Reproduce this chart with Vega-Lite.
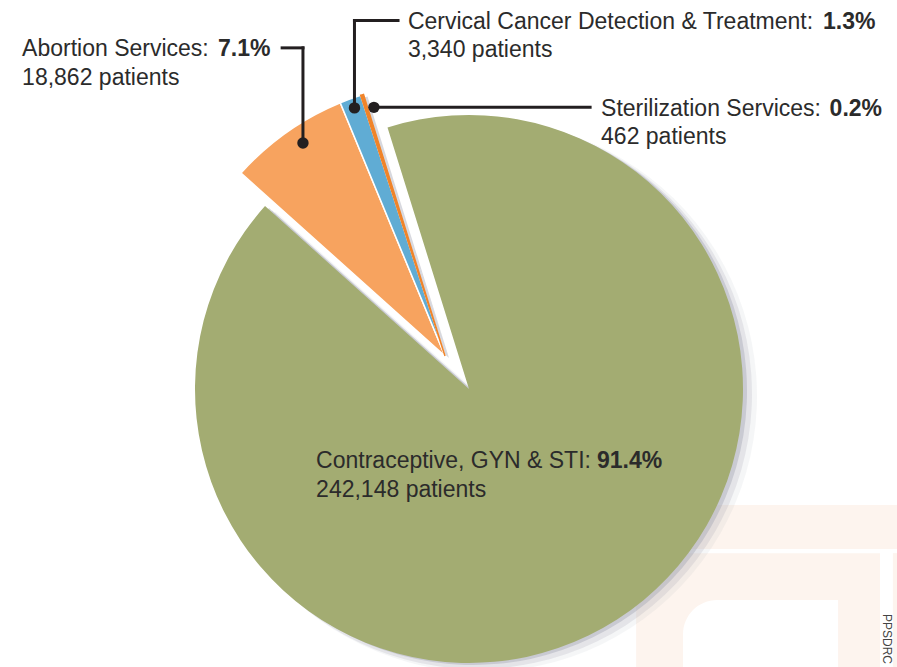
{
  "$schema": "https://vega.github.io/schema/vega-lite/v6.json",
  "width": 548,
  "height": 548,
  "autosize": {"type": "none"},
  "padding": {"left": 195, "top": 115, "right": 154, "bottom": 4},
  "background": "white",
  "config": {
    "view": {"stroke": null},
    "text": {"font": "Liberation Sans", "fontSize": 23, "color": "#2b2b2b"}
  },
  "data": {
    "values": [
      {"service": "Contraceptive, GYN & STI", "patients": 242148, "pct": "91.4%"},
      {"service": "Abortion Services", "patients": 18862, "pct": "7.1%"},
      {"service": "Cervical Cancer Detection & Treatment", "patients": 3340, "pct": "1.3%"},
      {"service": "Sterilization Services", "patients": 462, "pct": "0.2%"}
    ]
  },
  "transform": [
    {"stack": "patients", "groupby": [], "sort": [{"field": "patients", "order": "descending"}], "as": ["p0", "p1"]},
    {"calculate": "datum.service + ':\\n' + format(datum.patients, ',') + ' patients'", "as": "label"}
  ],
  "layer": [
    {
      "data": {"values": [{}]},
      "layer": [
        {
          "mark": {"type": "rect", "color": "#fdf4ee"},
          "encoding": {
            "x": {"datum": 62.4, "type": "quantitative", "scale": {"domain": [-100, 100], "nice": false, "zero": false}, "axis": null},
            "x2": {"datum": 157},
            "y": {"datum": -42.3, "type": "quantitative", "scale": {"domain": [-100, 100], "nice": false, "zero": false}, "axis": null},
            "y2": {"datum": -58.4}
          }
        },
        {
          "mark": {"type": "rect", "color": "#fdf4ee", "cornerRadiusTopLeft": 45},
          "encoding": {
            "x": {"datum": 61.0, "type": "quantitative", "scale": {"domain": [-100, 100], "nice": false, "zero": false}, "axis": null},
            "x2": {"datum": 150.0},
            "y": {"datum": -59.9, "type": "quantitative", "scale": {"domain": [-100, 100], "nice": false, "zero": false}, "axis": null},
            "y2": {"datum": -102}
          }
        },
        {
          "mark": {"type": "rect", "color": "#fdf4ee"},
          "encoding": {
            "x": {"datum": 154.7, "type": "quantitative", "scale": {"domain": [-100, 100], "nice": false, "zero": false}, "axis": null},
            "x2": {"datum": 157},
            "y": {"datum": -59.9, "type": "quantitative", "scale": {"domain": [-100, 100], "nice": false, "zero": false}, "axis": null},
            "y2": {"datum": -102}
          }
        },
        {
          "mark": {"type": "rect", "color": "#ffffff", "cornerRadiusTopLeft": 35},
          "encoding": {
            "x": {"datum": 78.1, "type": "quantitative", "scale": {"domain": [-100, 100], "nice": false, "zero": false}, "axis": null},
            "x2": {"datum": 134.7},
            "y": {"datum": -77.0, "type": "quantitative", "scale": {"domain": [-100, 100], "nice": false, "zero": false}, "axis": null},
            "y2": {"datum": -102}
          }
        },
        {
          "mark": {"type": "text", "angle": 90, "align": "left", "baseline": "middle", "fontSize": 12, "color": "#444444"},
          "encoding": {
            "x": {"datum": 152.7, "type": "quantitative", "scale": {"domain": [-100, 100], "nice": false, "zero": false}, "axis": null},
            "y": {"datum": -82.1, "type": "quantitative", "scale": {"domain": [-100, 100], "nice": false, "zero": false}, "axis": null},
            "text": {"value": "PPSDRC"}
          }
        }
      ]
    },
    {
      "transform": [{"filter": "datum.patients > 100000"}],
      "layer": [
        {
          "mark": {"type": "arc", "color": "#9fa2b1", "opacity": 0.1, "outerRadius": 276, "xOffset": 12, "yOffset": 7},
          "encoding": {
            "theta": {"field": "p0", "type": "quantitative", "scale": {"domain": [0, 264812], "range": [-0.302, 5.9812]}},
            "theta2": {"field": "p1"}
          }
        },
        {
          "mark": {"type": "arc", "color": "#9fa2b1", "opacity": 0.2, "outerRadius": 275, "xOffset": 8, "yOffset": 5},
          "encoding": {
            "theta": {"field": "p0", "type": "quantitative", "scale": {"domain": [0, 264812], "range": [-0.302, 5.9812]}},
            "theta2": {"field": "p1"}
          }
        },
        {
          "mark": {"type": "arc", "color": "#9fa2b1", "opacity": 0.4, "outerRadius": 274, "xOffset": 4, "yOffset": 2},
          "encoding": {
            "theta": {"field": "p0", "type": "quantitative", "scale": {"domain": [0, 264812], "range": [-0.302, 5.9812]}},
            "theta2": {"field": "p1"}
          }
        },
        {
          "mark": {"type": "arc", "color": "#a3ac72"},
          "encoding": {
            "theta": {"field": "p0", "type": "quantitative", "scale": {"domain": [0, 264812], "range": [-0.302, 5.9812]}},
            "theta2": {"field": "p1"}
          }
        }
      ]
    },
    {
      "transform": [{"filter": "datum.patients < 100000"}],
      "mark": {"type": "arc", "color": "#a6a9b6", "opacity": 0.45, "xOffset": -20, "yOffset": -31},
      "encoding": {
        "theta": {"field": "p0", "type": "quantitative", "scale": {"domain": [0, 264812], "range": [-0.302, 5.9812]}},
        "theta2": {"field": "p1"}
      }
    },
    {
      "transform": [{"filter": "datum.patients < 100000"}],
      "mark": {"type": "arc", "xOffset": -24, "yOffset": -33, "strokeWidth": 1.5},
      "encoding": {
        "theta": {"field": "p0", "type": "quantitative", "scale": {"domain": [0, 264812], "range": [-0.302, 5.9812]}},
        "theta2": {"field": "p1"},
        "stroke": {
          "field": "service",
          "type": "nominal",
          "scale": {
            "domain": ["Abortion Services", "Cervical Cancer Detection & Treatment", "Sterilization Services"],
            "range": ["#ffffff", "#ffffff", "#f0842a"]
          },
          "legend": null
        },
        "fill": {
          "field": "service",
          "type": "nominal",
          "scale": {
            "domain": ["Contraceptive, GYN & STI", "Abortion Services", "Cervical Cancer Detection & Treatment", "Sterilization Services"],
            "range": ["#a3ac72", "#f7a35f", "#60acd4", "#f0842a"]
          },
          "legend": null
        }
      }
    },
    {
      "data": {"values": [{}]},
      "layer": [
        {
          "mark": {"type": "rule", "color": "#231f20", "strokeWidth": 3, "strokeCap": "square"},
          "encoding": {
            "x": {"datum": -68.2, "type": "quantitative", "scale": {"domain": [-100, 100], "nice": false, "zero": false}, "axis": null},
            "x2": {"datum": -60.6},
            "y": {"datum": 124.5, "type": "quantitative", "scale": {"domain": [-100, 100], "nice": false, "zero": false}, "axis": null}
          }
        },
        {
          "mark": {"type": "rule", "color": "#231f20", "strokeWidth": 3, "strokeCap": "square"},
          "encoding": {
            "x": {"datum": -60.6, "type": "quantitative", "scale": {"domain": [-100, 100], "nice": false, "zero": false}, "axis": null},
            "y": {"datum": 124.5, "type": "quantitative", "scale": {"domain": [-100, 100], "nice": false, "zero": false}, "axis": null},
            "y2": {"datum": 89.8}
          }
        },
        {
          "mark": {"type": "rule", "color": "#231f20", "strokeWidth": 3, "strokeCap": "square"},
          "encoding": {
            "x": {"datum": -41.8, "type": "quantitative", "scale": {"domain": [-100, 100], "nice": false, "zero": false}, "axis": null},
            "x2": {"datum": -25.9},
            "y": {"datum": 134.5, "type": "quantitative", "scale": {"domain": [-100, 100], "nice": false, "zero": false}, "axis": null}
          }
        },
        {
          "mark": {"type": "rule", "color": "#231f20", "strokeWidth": 3, "strokeCap": "square"},
          "encoding": {
            "x": {"datum": -41.8, "type": "quantitative", "scale": {"domain": [-100, 100], "nice": false, "zero": false}, "axis": null},
            "y": {"datum": 134.5, "type": "quantitative", "scale": {"domain": [-100, 100], "nice": false, "zero": false}, "axis": null},
            "y2": {"datum": 102.6}
          }
        },
        {
          "mark": {"type": "rule", "color": "#231f20", "strokeWidth": 3, "strokeCap": "square"},
          "encoding": {
            "x": {"datum": -34.7, "type": "quantitative", "scale": {"domain": [-100, 100], "nice": false, "zero": false}, "axis": null},
            "x2": {"datum": 44.2},
            "y": {"datum": 102.8, "type": "quantitative", "scale": {"domain": [-100, 100], "nice": false, "zero": false}, "axis": null}
          }
        },
        {
          "mark": {"type": "point", "filled": true, "opacity": 1, "size": 130, "color": "#231f20"},
          "encoding": {
            "x": {"datum": -60.6, "type": "quantitative", "scale": {"domain": [-100, 100], "nice": false, "zero": false}, "axis": null},
            "y": {"datum": 89.8, "type": "quantitative", "scale": {"domain": [-100, 100], "nice": false, "zero": false}, "axis": null}
          }
        },
        {
          "mark": {"type": "point", "filled": true, "opacity": 1, "size": 130, "color": "#231f20"},
          "encoding": {
            "x": {"datum": -41.8, "type": "quantitative", "scale": {"domain": [-100, 100], "nice": false, "zero": false}, "axis": null},
            "y": {"datum": 102.6, "type": "quantitative", "scale": {"domain": [-100, 100], "nice": false, "zero": false}, "axis": null}
          }
        },
        {
          "mark": {"type": "point", "filled": true, "opacity": 1, "size": 130, "color": "#231f20"},
          "encoding": {
            "x": {"datum": -34.7, "type": "quantitative", "scale": {"domain": [-100, 100], "nice": false, "zero": false}, "axis": null},
            "y": {"datum": 102.8, "type": "quantitative", "scale": {"domain": [-100, 100], "nice": false, "zero": false}, "axis": null}
          }
        }
      ]
    },
    {
      "transform": [{"filter": "datum.service === 'Abortion Services'"}],
      "layer": [
        {
          "mark": {"type": "text", "align": "left", "baseline": "alphabetic", "lineBreak": "\n", "lineHeight": 28.5},
          "encoding": {
            "x": {"datum": -163.1, "type": "quantitative", "scale": {"domain": [-100, 100], "nice": false, "zero": false}, "axis": null},
            "y": {"datum": 121.4, "type": "quantitative", "scale": {"domain": [-100, 100], "nice": false, "zero": false}, "axis": null},
            "text": {"field": "label"}
          }
        },
        {
          "mark": {"type": "text", "align": "left", "baseline": "alphabetic", "fontWeight": "bold"},
          "encoding": {
            "x": {"datum": -91.6, "type": "quantitative", "scale": {"domain": [-100, 100], "nice": false, "zero": false}, "axis": null},
            "y": {"datum": 121.4, "type": "quantitative", "scale": {"domain": [-100, 100], "nice": false, "zero": false}, "axis": null},
            "text": {"field": "pct"}
          }
        }
      ]
    },
    {
      "transform": [{"filter": "datum.service === 'Cervical Cancer Detection & Treatment'"}],
      "layer": [
        {
          "mark": {"type": "text", "align": "left", "baseline": "alphabetic", "lineBreak": "\n", "lineHeight": 28.5},
          "encoding": {
            "x": {"datum": -22.3, "type": "quantitative", "scale": {"domain": [-100, 100], "nice": false, "zero": false}, "axis": null},
            "y": {"datum": 131.4, "type": "quantitative", "scale": {"domain": [-100, 100], "nice": false, "zero": false}, "axis": null},
            "text": {"field": "label"}
          }
        },
        {
          "mark": {"type": "text", "align": "left", "baseline": "alphabetic", "fontWeight": "bold"},
          "encoding": {
            "x": {"datum": 129.2, "type": "quantitative", "scale": {"domain": [-100, 100], "nice": false, "zero": false}, "axis": null},
            "y": {"datum": 131.4, "type": "quantitative", "scale": {"domain": [-100, 100], "nice": false, "zero": false}, "axis": null},
            "text": {"field": "pct"}
          }
        }
      ]
    },
    {
      "transform": [{"filter": "datum.service === 'Sterilization Services'"}],
      "layer": [
        {
          "mark": {"type": "text", "align": "left", "baseline": "alphabetic", "lineBreak": "\n", "lineHeight": 28.5},
          "encoding": {
            "x": {"datum": 48.2, "type": "quantitative", "scale": {"domain": [-100, 100], "nice": false, "zero": false}, "axis": null},
            "y": {"datum": 99.8, "type": "quantitative", "scale": {"domain": [-100, 100], "nice": false, "zero": false}, "axis": null},
            "text": {"field": "label"}
          }
        },
        {
          "mark": {"type": "text", "align": "left", "baseline": "alphabetic", "fontWeight": "bold"},
          "encoding": {
            "x": {"datum": 131.6, "type": "quantitative", "scale": {"domain": [-100, 100], "nice": false, "zero": false}, "axis": null},
            "y": {"datum": 99.8, "type": "quantitative", "scale": {"domain": [-100, 100], "nice": false, "zero": false}, "axis": null},
            "text": {"field": "pct"}
          }
        }
      ]
    },
    {
      "transform": [{"filter": "datum.service === 'Contraceptive, GYN & STI'"}],
      "layer": [
        {
          "mark": {"type": "text", "align": "left", "baseline": "alphabetic", "lineBreak": "\n", "lineHeight": 28.5},
          "encoding": {
            "x": {"datum": -55.8, "type": "quantitative", "scale": {"domain": [-100, 100], "nice": false, "zero": false}, "axis": null},
            "y": {"datum": -29.0, "type": "quantitative", "scale": {"domain": [-100, 100], "nice": false, "zero": false}, "axis": null},
            "text": {"field": "label"}
          }
        },
        {
          "mark": {"type": "text", "align": "left", "baseline": "alphabetic", "fontWeight": "bold"},
          "encoding": {
            "x": {"datum": 46.7, "type": "quantitative", "scale": {"domain": [-100, 100], "nice": false, "zero": false}, "axis": null},
            "y": {"datum": -29.0, "type": "quantitative", "scale": {"domain": [-100, 100], "nice": false, "zero": false}, "axis": null},
            "text": {"field": "pct"}
          }
        }
      ]
    }
  ]
}
